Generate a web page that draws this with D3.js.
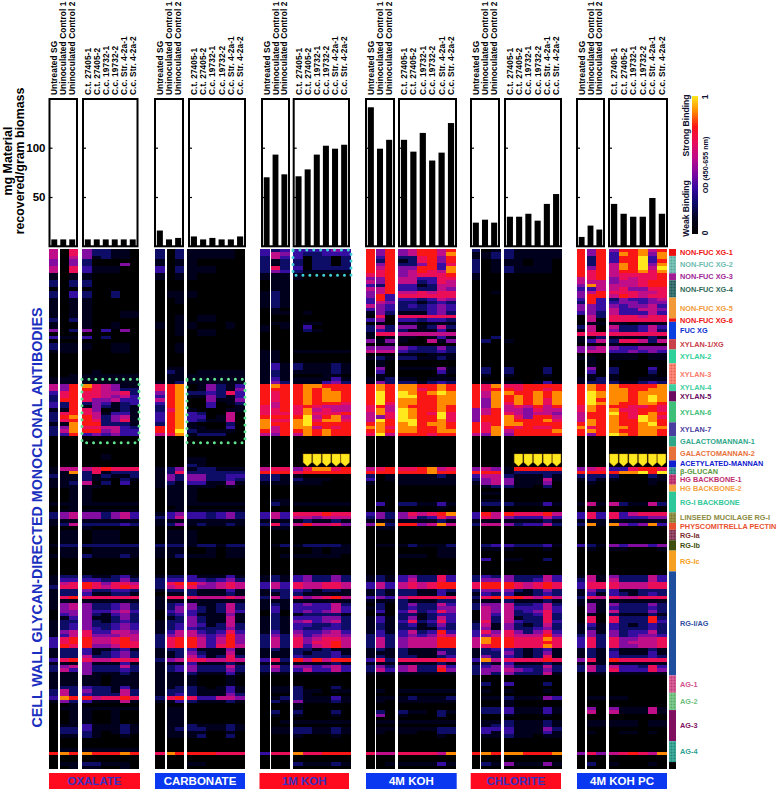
<!DOCTYPE html>
<html><head><meta charset="utf-8">
<script src="https://d3js.org/d3.v7.min.js"></script>
<style>html,body{margin:0;padding:0;background:#fff}svg{display:block}text{font-family:"Liberation Sans",Arial,sans-serif;font-weight:bold}</style>
</head><body><svg id="c" width="778" height="792"></svg>
<script>
const treatments=["OXALATE","CARBONATE","1M KOH","4M KOH","CHLORITE","4M KOH PC"];
const sampleNames=["Untreated SG","Uninoculated Control 1","Uninoculated Control 2","C.t. 27405-1","C.t. 27405-2","C.c. 19732-1","C.c. 19732-2","C.c. Str. 4-2a-1","C.c. Str. 4-2a-2"];
const oxalateBars=[7,7,7,7,7,7,7,7,7];
const carbonateBars=[16,7,8.5,10,7,8.5,7,7,10];
const koh1Bars=[70,93,73,71,78,93,102,99,103];
const koh4Bars=[141,99,108,108,96,115,87,95,125];
const chloriteBars=[24,27,24,30,30,33,26,43,53];
const kohPcBars=[9.5,21,17,43,33,30,30,49,33];
const yTicks=[50,100];
const groupNames=["NON-FUC XG-1","NON-FUC XG-2","NON-FUC XG-3","NON-FUC XG-4","NON-FUC XG-5","NON-FUC XG-6","FUC XG","XYLAN-1/XG","XYLAN-2","XYLAN-3","XYLAN-4","XYLAN-5","XYLAN-6","XYLAN-7","GALACTOMANNAN-1","GALACTOMANNAN-2","ACETYLATED-MANNAN","β-GLUCAN","HG BACKBONE-1","HG BACKBONE-2","RG-I BACKBONE","LINSEED MUCILAGE RG-I","PHYSCOMITRELLA PECTIN","RG-Ia","RG-Ib","RG-Ic","RG-I/AG","AG-1","AG-2","AG-3","AG-4",""];
const groupRowCounts=[2,5,2,5,6,1,5,3,4,6,2,3,6,4,3,4,2,2,3,2,6,3,2,3,3,6,30,5,5,9,6,2];
const groupColors=["#ee1111","#6cbcb0","#a01f95","#2f6a68","#f29a38","#ee1111","#0a3fe0","#c8404a","#2fd29a","#fa7a6a","#3fcf9f","#6a0a60","#3fc078","#4a3fa0","#2fa88a","#e8703a","#1020d0","#2f8f8f","#c02f6f","#f5a040","#2fc89a","#8a8a3f","#e8502f","#8a3a5a","#3f4f10","#f5a020","#1f4f9f","#d04f8a","#6fbf7f","#80105f","#2f9f8f","#000000"];
const labelColors=["#ee1111","#6cbcb0","#a01f95","#2f6a58","#f29a38","#ee1111","#0a2fd0","#c8404a","#2fd29a","#fa7a6a","#3fcf9f","#6a0a60","#3fc078","#4a3fa0","#2fa88a","#e8703a","#1020d0","#5a9a40","#c02f6f","#f5a040","#2fc89a","#8a8a3f","#e8502f","#7a3030","#3f4f10","#f5a020","#2f4f9f","#d04f8a","#6fbf7f","#80105f","#2f9f8f","#000"];
const texturedGroups=["NON-FUC XG-2","NON-FUC XG-4","XYLAN-3","HG BACKBONE-1","LINSEED MUCILAGE RG-I","RG-Ia","AG-1","AG-2","AG-4","β-GLUCAN"];
// Binding strength per antibody row, 0 (none) to 9 (strongest): "firstRow columnLevels"
const oxalateRows=["0 506422110","2 505412110","3 404200000","4 404200040","5 506311100","7 101100000","9 202200000","11 000000000","12 203200200","14 101100000","18 101100011","20 202100000","21 100100100","23 402403040","24 000000000","25 311302000","26 000000000","27 211100110","29 111000110","30 000000000","35 000010000","36 001111111","37 111111111",
"39 547865411","40 547765422","41 367665562","42 267665453","43 277644533","44 327243123","45 327142121","46 117640121","47 267651331","48 278752451","49 267762461","50 118772221","51 248665532","52 258774533","53 237343433","54 000000000","59 000001000","61 000000000",
"63 155567666","64 118261222","65 211212112","66 111211021","67 112502030","68 111110000","69 001100000","73 111111111","74 001000000","75 011111111","76 245442453","78 111111111","79 125222232","80 000100000","81 011011100","85 122222222","86 011011111","88 111211121","89 000000000","94 122211231","95 133332242","96 156764665","97 266765676","98 122422332","99 122311221","100 167666666","101 111111111","102 145422342","104 044433453","105 034421342","106 013411242","107 122421232","108 123422343","109 123432343","110 145633554","111 135644455","112 367755675","113 367755676","114 376744576","115 122311231","116 122312342","117 122522342","118 367655666","119 111411131","120 245422252","121 253422232","122 111411121","123 111110111","126 122322131","127 252422152","128 252322252","129 387756676","130 142311151","131 001000000","132 011111111","133 001100100","137 011311121","138 022311121","139 022210121","140 011210010","141 000000000","144 011111111","145 787877787","146 000000000","148 011221110","149 001110010"];
const carbonateRows=["0 202111110","3 101100000","5 302111000","7 101100000","9 000000000","12 011100000","14 001000000","16 000000000","19 001011000","21 101100010","23 001011000","25 000000000","27 001000000","30 000000000","34 011000000","35 021011111","36 011111111","38 112111111",
"39 678014213","40 678014214","41 478223263","42 378114213","43 578004114","44 378003012","45 278003001","46 268100011","47 378320050","48 378330150","49 378321150","50 278100020","51 778110030","52 779211110","53 568122200","54 000000000","60 000110000","62 000210000",
"63 124122111","64 126222222","65 142442233","66 142442232","67 121331141","68 111111010","69 011100000","73 011111111","74 001000000","75 011111111","76 134332342","77 235332342","78 111111111","79 124121121","80 000000000","81 011100000","85 222122122","86 111001011","88 112111011","89 000000000","94 122311131","95 233332342","96 267754565","97 256644565","98 122211131","99 011211121","100 166655565","101 111111111","102 123411252","103 124421252","104 034321253","105 023311141","106 012421151","107 122421151","108 123431252","109 123322242","110 135532363","111 245543474","112 267753574","114 267753675","115 122311141","116 112421151","117 112531262","118 245665565","119 111311121","120 123422252","121 123422242","122 111211131","123 111100010","126 112210131","127 122211131","128 123211142","129 267633554","130 113211121","131 000000000","132 011000000","137 011211121","138 012221121","139 011110010","140 011120020","141 000000000","145 687777666","146 000000000","148 000110000","149 000000000"];
const koh1Rows=["0 323333343","1 354322333","2 253302202","3 212202202","5 262302222","6 243211111","7 111100000","9 011000000","12 121000000","17 010000000","18 011010000","19 000000000","21 011011000","22 101030000","23 100021000","24 000000000","29 110111111","30 110000000","33 131211121","35 121111121","36 121000110","37 131111131","38 142111342",
"39 787788777","40 777787877","41 767787887","44 757787776","45 657676555","46 667685655","47 666686667","48 777795785","49 866896886","50 877897777","51 857885767","52 757787877","53 547587877","54 000000000",
"63 566468867","64 777677777","65 221100000","66 221211100","67 111111000","68 000000000","72 011000000","73 021111111","74 000000000","76 353666766","77 353554555","78 111121121","79 262575564","80 011000000","81 000000000","85 012122221","86 000001011","88 001111110","89 000000000","94 121342242","96 353655665","98 122321221","99 112211111","100 252645675","101 111111111","102 121343352","103 131333353","104 030343453","105 020122221","106 121333442","107 121453452","108 121332232","109 121322332","110 131433453","111 242534554","112 252645665","113 252646675","114 252635675","115 121221211","116 111212231","117 111322232","118 362757577","119 111111121","120 252443453","121 242353353","122 111111110","123 000000000","126 011200020","127 011211011","128 000210000","129 012211131","130 021411121","131 000100000","133 020200020","134 010100010","135 000000000","136 001111111","137 000000000","138 011221121","140 000100010","141 000000000","145 366866777","146 000000000","148 000211121","149 000000000"];
const koh4Rows=["0 747457757","1 747457758","2 737226747","3 727126747","4 747224736","5 757447738","6 767457658","7 667456667","8 447553366","9 547552365","10 327331255","11 557332254","12 457556566","13 473666666","14 373332354","15 354221232","16 543232343","17 343222343","18 142111342","19 060666666","20 340332332","21 010110111","22 252441252","23 232211131","24 166555555","25 101110131","26 414100514","27 001000000","28 444432242","29 555322232","30 000110111","31 121221121","32 010000000","34 040111141","35 030000031","36 010000010","37 112110111","38 142221232",
"39 787887787","40 787886787","41 797987898","42 797997788","43 797887788","44 796887788","45 675877787","46 685987787","47 586987696","48 546987796","49 597997786","50 787897887","51 886887787","52 787887788","53 695777677","54 000000000",
"63 567667856","64 777777877","65 201111121","66 301111111","67 100111111","68 000000000","73 030221131","74 000000010","75 000000000","76 342465678","77 242452364","78 111111121","79 482774585","80 011000000","81 000000000","85 011121112","86 000000011","88 000111011","89 000000000","94 121342263","95 121352263","96 353565677","98 121221132","99 121221131","100 343566676","101 111211122","102 020242253","103 120232244","104 030352364","105 010221233","106 131241253","107 131362363","108 121231242","109 121221132","110 131352373","111 232343465","112 252455577","115 121211122","116 111211142","117 121221123","118 362666676","119 111111121","120 242452263","121 253452274","122 111111111","123 000000000","127 010111111","128 000000000","129 011121112","130 010111111","131 000000000","133 020211021","134 040100020","135 000000000","136 011111111","137 000000000","138 011111122","139 010110022","140 000000010","141 000000000","145 655666658","146 000000000","148 001111131","149 000000000"];
const chloriteRows=["0 201211111","1 112211111","3 201110110","5 201211110","7 100000000","9 000000000","12 001000000","13 000000000","25 002000000","26 020100000","27 000000000","34 020200020","36 010100010","37 000000000","38 011110131",
"39 768667777","40 767767767","41 758877878","42 758787878","43 748787868","44 748687868","45 748565757","46 457554655","47 457654554","48 477864775","49 477877786","50 767887777","51 768767667","52 768577778","53 548477777","54 000000000",
"63 454177777","64 777122222","65 355211121","66 245411151","67 145411140","68 012211020","69 000000000","70 011000000","71 000000000","72 011000000","73 022211131","74 000000000","76 375766675","77 365433353","78 111111121","79 255423352","80 000000000","85 023322231","86 011100010","87 000000000","89 030110020","90 000000000","94 232422253","95 244422353","96 677765676","98 244421242","99 132311232","100 267776575","101 111211121","102 244522352","103 254533353","104 054523463","105 053522362","106 052512262","107 162532263","108 251421252","109 241422342","110 364642463","111 345655574","112 587766686","113 587766676","114 567766686","115 123321231","116 122421241","117 142321261","118 385666676","119 121311121","120 234422252","121 244543242","122 242422251","123 000000000","125 020300020","126 000000000","127 010100010","128 000000000","129 011211143","130 000100000","132 022311131","134 000100010","135 000000000","136 011211121","137 012211121","138 033311142","139 031311131","140 011211011","141 000000000","145 787887778","146 000000000","148 021411141","149 000000000"];
const kohPcRows=["0 747477857","1 747387848","2 727377938","3 727377937","4 727587948","5 747587959","6 767577868","7 767566667","8 567465667","9 555455677","10 485555677","11 335564466","12 457666556","13 477576566","14 373243345","15 273344344","16 443434453","17 443533554","18 342533353","19 052666566","20 050666666","21 011110111","22 250522353","23 150422352","24 666666666","25 112111121","26 135266525","27 000100000","28 445433444","29 455334343","30 000111011","31 110111011","32 010000000","34 040200030","35 030200020","36 010100010","37 112100111","38 122211232",
"39 787877778","40 787887788","41 798887888","42 798887898","43 797887898","44 798877887","45 687776676","46 687866776","47 577976787","48 577876986","49 587877987","50 787877897","51 867887888","52 787877887","53 747987887","54 000000000",
"63 456336776","64 777788979","65 222200021","66 121100011","67 010000010","68 000000000","73 151521152","74 000000000","76 363635666","77 363633344","78 111111111","79 281843483","80 000000000","85 321434434","86 010110001","87 000000000","94 151422253","95 251522253","96 366655566","98 142311222","99 131321232","100 265655666","101 111111111","102 141422242","103 041322232","104 041522242","105 010211121","106 060622272","107 060622273","108 131321232","109 121322232","110 141423352","111 242423443","112 362644556","113 362645556","114 362644556","115 121211121","116 121311131","117 121322232","118 461766666","119 111111111","120 252533263","121 252633364","122 011111111","123 000000000","129 011110000","130 000000000","132 040411151","133 050511151","134 000000000","136 011111011","138 000000000","139 010011010","140 000000000","145 464567658","146 000000000","148 020100010","149 000000000"];
const arrowColumns=[[],[],[1,2,3,4,5],[],[1,2,3,4,5],[0,1,2,3,4,5]];

const allRows=[oxalateRows,carbonateRows,koh1Rows,koh4Rows,chloriteRows,kohPcRows];
const allBars=[oxalateBars,carbonateBars,koh1Bars,koh4Bars,chloriteBars,kohPcBars];

// layout
const heatTop=249,heatBottom=769,barTop=99,barBottom=246.3;
const heatL=[{a:[49,58],b:[59.5,78],c:[82,139]},{a:[155,165],b:[166.5,183.5],c:[187,245]},{a:[260,269.5],b:[271,289.5],c:[293,350.5]},{a:[366,374.5],b:[376,394.5],c:[398,456]},{a:[472,479.5],b:[481,500.5],c:[504,562]},{a:[577,585],b:[586.5,606],c:[609,667]}];
const barL=[{a:[49.5,77],c:[83,137.5]},{a:[155,183],c:[189,245]},{a:[262,289],c:[293.7,349]},{a:[366,394],c:[399,456]},{a:[471,499],c:[505,561]},{a:[577,604],c:[609,667]}];
const stripL=[[49,140],[155,245],[259.5,349],[366,456.7],[470.7,561],[577,667]];
const labelNudge={"ACETYLATED-MANNAN":-0.7,"β-GLUCAN":0.5};

const svg=d3.select("#c");
const defs=svg.append("defs");
const soft=defs.append("filter").attr("id","soft").attr("x","-2%").attr("y","-1%").attr("width","104%").attr("height","102%");
soft.append("feGaussianBlur").attr("stdDeviation",0.45);
const rowIdx=d3.range(150);
const yRow=d3.scaleBand().domain(rowIdx).range([heatTop,heatBottom]);
const yVal=d3.scaleLinear().domain([0,150]).range([barBottom,barBottom-150*0.986]);
const levelStops=[0,1,2,3,4,5,6,7,8,9];
const heatColor=d3.scaleLinear().domain(levelStops).range(["#000000","#04041e","#0a0a68","#3608a0","#8208a0","#c00c88","#ea0c58","#fb1418","#ff8a00","#ffe81e"]);

function expand(entries){
  const out=new Array(150);
  const parsed=entries.map(s=>s.split(" ")).map(p=>[+p[0],p[1]]);
  parsed.forEach((p,i)=>{
    const end=i+1<parsed.length?parsed[i+1][0]:150;
    for(let r=p[0];r<end;r++)out[r]=p[1];
  });
  return out;
}

// heatmaps
allRows.forEach((entries,pi)=>{
  const rows=expand(entries),L=heatL[pi];
  const xa=d3.scaleBand().domain([0]).range(L.a);
  const xb=d3.scaleBand().domain([1,2]).range(L.b);
  const xc=d3.scaleBand().domain([3,4,5,6,7,8]).range(L.c);
  const g=svg.append("g").attr("filter","url(#soft)");
  [[xa,[0]],[xb,[1,2]],[xc,[3,4,5,6,7,8]]].forEach(([x,cols])=>{
    cols.forEach(c=>{
      g.selectAll(null).data(rowIdx).join("rect")
        .attr("shape-rendering","crispEdges")
        .attr("x",x(c)).attr("width",x.bandwidth()+0.4)
        .attr("y",r=>yRow(r)).attr("height",yRow.bandwidth()+0.4)
        .attr("fill",r=>heatColor(+rows[r][c]));
    });
  });
  // yellow arrows
  const ag=svg.append("g");
  arrowColumns[pi].forEach(i=>{
    const xm=xc(i+3)+xc.bandwidth()/2+(i===5?-0.5:0);
    const w=4.2,t=yRow(59)+0.5,s=yRow(61)+2,b=yRow(63)-1.2;
    ag.append("path").attr("d",`M${xm-w},${t}L${xm+w},${t}L${xm+w},${s}L${xm},${b}L${xm-w},${s}Z`)
      .attr("fill","#ffe81e").attr("stroke","#d8a010").attr("stroke-width",0.4);
  });
});

// dotted highlight boxes
function dotBox(x0,x1,y0,y1,col){
  svg.append("rect").attr("x",x0).attr("y",y0).attr("width",x1-x0).attr("height",y1-y0)
    .attr("fill","none").attr("stroke",col).attr("stroke-width",3)
    .attr("stroke-linecap","round").attr("stroke-dasharray","0.01 6.9");
}
dotBox(heatL[0].c[0],heatL[0].c[1],yRow(37)+2,yRow(55)+3,"#5fe58f");
dotBox(heatL[1].c[0],heatL[1].c[1],yRow(37)+2,yRow(55)+3,"#5fe58f");
dotBox(heatL[2].c[0],heatL[2].c[1]+0.5,heatTop+1,yRow(7)+2,"#40d0d8");

// bar panels
allBars.forEach((vals,pi)=>{
  const L=barL[pi];
  const blocks=[[L.a,[0,1,2]],[L.c,[3,4,5,6,7,8]]];
  blocks.forEach(([range,cols],bi)=>{
    const x=d3.scaleBand().domain(cols).range(range).paddingInner(0.34).paddingOuter(0.2);
    const g=svg.append("g");
    g.selectAll("rect.bar").data(cols).join("rect").attr("class","bar")
      .attr("x",c=>x(c)).attr("width",x.bandwidth())
      .attr("y",c=>yVal(vals[c])).attr("height",c=>barBottom-yVal(vals[c])).attr("fill","#000");
    const axis=d3.axisLeft(yVal).tickValues(yTicks).tickSize(-3).tickPadding(pi===0&&bi===0?4:0)
      .tickFormat(pi===0&&bi===0?d3.format("d"):"");
    const ax=g.append("g").attr("transform",`translate(${range[0]},0)`).call(axis);
    ax.select(".domain").remove();
    ax.selectAll("line").attr("stroke","#000").attr("stroke-width",1.2);
    ax.selectAll("text").attr("font-size",11.5).attr("fill","#000");
    g.append("rect").attr("x",range[0]).attr("y",barTop).attr("width",range[1]-range[0]).attr("height",barBottom-barTop)
      .attr("fill","none").attr("stroke","#000").attr("stroke-width",2);
    g.selectAll("text.s").data(cols).join("text").attr("class","s")
      .attr("transform",c=>`translate(${x(c)+x.bandwidth()/2+3},95) rotate(-90)`)
      .attr("font-size",8.3).attr("letter-spacing",0.1).attr("fill","#000").text(c=>sampleNames[c]);
  });
});

// bottom strips
treatments.forEach((t,i)=>{
  const red=i%2===0,[a,b]=stripL[i];
  svg.append("rect").attr("x",a).attr("y",773).attr("width",b-a).attr("height",16).attr("fill",red?"#ff0a1e":"#0a37f0");
  svg.append("text").attr("x",(a+b)/2).attr("y",785).attr("text-anchor","middle").attr("font-size",11.5)
    .attr("fill",red?"#3a2fc0":"#ffffff").text(t);
});

// group sidebar
const pat=defs.append("pattern").attr("id","tx").attr("width",3).attr("height",3).attr("patternUnits","userSpaceOnUse");
pat.append("circle").attr("cx",1).attr("cy",1).attr("r",0.7).attr("fill","#ffffff").attr("opacity",0.28);
pat.append("circle").attr("cx",2.5).attr("cy",2.5).attr("r",0.6).attr("fill","#000").attr("opacity",0.16);
let cum=0;
groupNames.forEach((n,i)=>{
  const y0=yRow(cum),h=yRow.step()*groupRowCounts[i];
  svg.append("rect").attr("x",669).attr("y",y0).attr("width",7).attr("height",h).attr("fill",groupColors[i]);
  if(texturedGroups.includes(n)) svg.append("rect").attr("x",669).attr("y",y0).attr("width",7).attr("height",h).attr("fill","url(#tx)");
  if(n) svg.append("text").attr("x",680).attr("y",y0+h/2+2.7+(labelNudge[n]||0)).attr("font-size",7.3).attr("fill",labelColors[i]).text(n);
  cum+=groupRowCounts[i];
});

// colour bar
const grad=defs.append("linearGradient").attr("id","cb").attr("x1",0).attr("y1",1).attr("x2",0).attr("y2",0);
levelStops.forEach(l=>grad.append("stop").attr("offset",l/9).attr("stop-color",heatColor(l)));
svg.append("rect").attr("x",692).attr("y",96).attr("width",6).attr("height",138).attr("fill","url(#cb)");
function rot(x,y,txt,size,col,anchor){
  svg.append("text").attr("transform",`translate(${x},${y}) rotate(-90)`).attr("text-anchor",anchor||"middle")
    .attr("font-size",size).attr("fill",col).text(txt);
}
rot(689,125.5,"Strong Binding",8.6,"#101030");
rot(689,208.5,"Weak Binding",8.6,"#101030");
rot(708,165,"OD (450-655 nm)",7.2,"#101030");
rot(708,97,"1",8.5,"#101030");
rot(708,233,"0",8.5,"#101030");

// titles
rot(12,161,"mg Material",12.4,"#000");
rot(24,161,"recovered/gram biomass",12.4,"#000");
rot(42,517.5,"CELL WALL GLYCAN-DIRECTED MONOCLONAL ANTIBODIES",14.25,"#1a2fc0");
</script></body></html>
